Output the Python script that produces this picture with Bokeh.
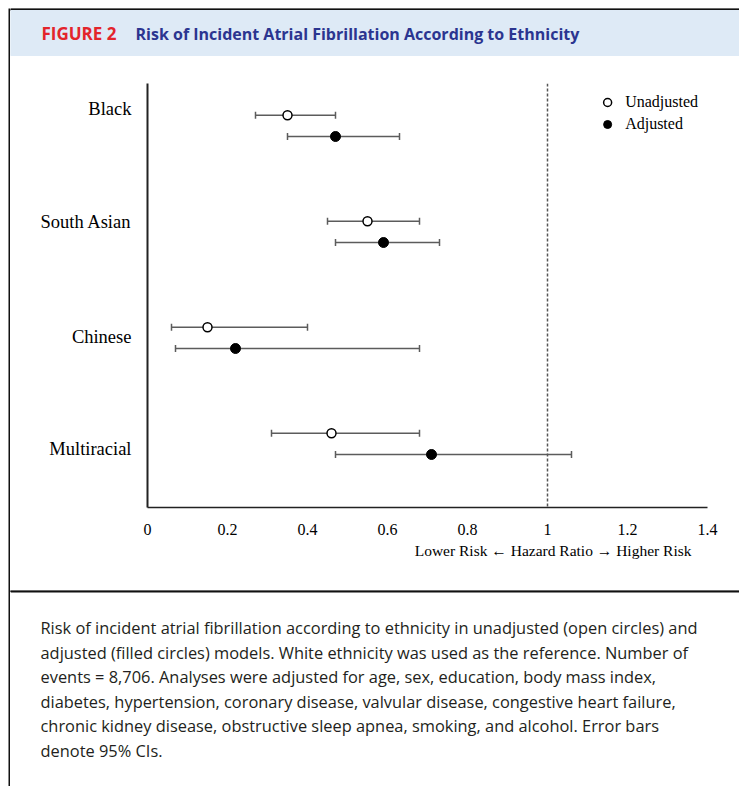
from bokeh.plotting import figure
from bokeh.models import (Range1d, FixedTicker, Whisker, ColumnDataSource, Span,
                          Legend, LegendItem, TeeHead, LinearAxis, Spacer)
from bokeh.layouts import row, column
from bokeh.embed import file_html
from bokeh.resources import INLINE
from bokeh.core.properties import value

# ---------------- data ----------------
ethnicities = ["Black", "South Asian", "Chinese", "Multiracial"]
unadj_hr = [0.35, 0.55, 0.15, 0.46]
unadj_lo = [0.27, 0.45, 0.06, 0.31]
unadj_hi = [0.47, 0.68, 0.40, 0.68]
adj_hr = [0.47, 0.59, 0.22, 0.71]
adj_lo = [0.35, 0.47, 0.07, 0.47]
adj_hi = [0.63, 0.73, 0.68, 1.06]
x_ticks = [0, 0.2, 0.4, 0.6, 0.8, 1.0, 1.2, 1.4]
x_tick_labels = ["0", "0.2", "0.4", "0.6", "0.8", "1", "1.2", "1.4"]
reference_hr = 1.0
series_labels = ["Unadjusted", "Adjusted"]
x_axis_title = "Lower Risk \u2190 Hazard Ratio \u2192 Higher Risk"
figure_tag = "FIGURE 2"
figure_title = "Risk of Incident Atrial Fibrillation According to Ethnicity"
caption_lines = [
    "Risk of incident atrial fibrillation according to ethnicity in unadjusted (open circles) and",
    "adjusted (filled circles) models. White ethnicity was used as the reference. Number of",
    "events = 8,706. Analyses were adjusted for age, sex, education, body mass index,",
    "diabetes, hypertension, coronary disease, valvular disease, congestive heart failure,",
    "chronic kidney disease, obstructive sleep apnea, smoking, and alcohol. Error bars",
    "denote 95% CIs.",
]

# ---------------- layout constants ----------------
W = 729
H_HDR, H_MAIN, H_CAP = 50, 532, 196
n = len(ethnicities)
group_pos = [n - 1 - i + 0.6 for i in range(n)]
pair_offset = 0.1
label_shift = [0.16, 0.09, 0.01, -0.05]
unadj_y = [g + pair_offset for g in group_pos]
adj_y = [g - pair_offset for g in group_pos]
label_y = [round(g + s, 3) for g, s in zip(group_pos, label_shift)]
title_pos = 1.014   # where the axis title is centred along the x axis


def panel_fig(h):
    f = figure(width=W, height=h, x_range=Range1d(0, W), y_range=Range1d(h, 0),
               toolbar_location=None, output_backend="svg", min_border=0,
               x_axis_type=None, y_axis_type=None, outline_line_color=None,
               border_fill_color="white", background_fill_color="white",
               frame_align=False)
    return f


# ---------------- header ----------------
hdr = panel_fig(H_HDR)
hdr.quad(left=[0], right=[W], top=[0], bottom=[2], color="#111111")
hdr.quad(left=[0], right=[W], top=[2], bottom=[47], color="#deeaf6")
hdr.text(x=[31], y=[25], text=[figure_tag], text_font=value("Open Sans"),
         text_font_style="bold", text_font_size="17px", text_color="#e3242b",
         text_baseline="middle", text_align="left")
hdr.text(x=[125], y=[25], text=[figure_title], text_font=value("Open Sans"),
         text_font_style="bold", text_font_size="16px", text_color="#2b3590",
         text_baseline="middle", text_align="left")

# ---------------- main chart ----------------
p = figure(width=W, height=H_MAIN, x_range=Range1d(0, 1.4), y_range=Range1d(0, 4),
           toolbar_location=None, output_backend="svg",
           min_border_left=137, min_border_right=32, min_border_top=25,
           min_border_bottom=83, outline_line_color=None,
           border_fill_color="white", background_fill_color="white",
           frame_align=False)
p.grid.visible = False

p.xaxis.ticker = FixedTicker(ticks=x_ticks)
p.xaxis.major_label_overrides = {t: lab for t, lab in zip(x_ticks, x_tick_labels)}
p.xaxis.axis_line_color = "#222222"
p.xaxis.axis_line_width = 1.5
p.xaxis.major_tick_line_color = None
p.xaxis.minor_tick_line_color = None
p.xaxis.major_tick_out = 0
p.xaxis.major_tick_in = 0
p.xaxis.major_label_standoff = 16
p.xaxis.major_label_text_font = "Liberation Serif"
p.xaxis.major_label_text_font_size = "16px"
p.xaxis.major_label_text_color = "black"

title_axis = LinearAxis(ticker=FixedTicker(ticks=[title_pos]),
                        major_label_overrides={title_pos: x_axis_title},
                        axis_line_color=None, major_tick_line_color=None,
                        minor_tick_line_color=None, major_tick_out=0, major_tick_in=0,
                        major_label_standoff=4,
                        major_label_text_font="Liberation Serif",
                        major_label_text_font_size="15.5px",
                        major_label_text_color="black")
p.add_layout(title_axis, "below")

p.yaxis.ticker = FixedTicker(ticks=label_y)
p.yaxis.major_label_overrides = {t: lab for t, lab in zip(label_y, ethnicities)}
p.yaxis.axis_line_color = "#222222"
p.yaxis.axis_line_width = 2
p.yaxis.major_tick_line_color = None
p.yaxis.minor_tick_line_color = None
p.yaxis.major_tick_out = 0
p.yaxis.major_tick_in = 0
p.yaxis.major_label_standoff = 16
p.yaxis.major_label_text_font = "Liberation Serif"
p.yaxis.major_label_text_font_size = "18.5px"
p.yaxis.major_label_text_color = "black"

p.add_layout(Span(location=reference_hr, dimension="height", line_color="#555555",
                  line_width=1.5, line_dash="3 2"))

src_u = ColumnDataSource(dict(y=unadj_y, hr=unadj_hr, lo=unadj_lo, hi=unadj_hi))
src_a = ColumnDataSource(dict(y=adj_y, hr=adj_hr, lo=adj_lo, hi=adj_hi))

for src in (src_u, src_a):
    p.add_layout(Whisker(source=src, base="y", lower="lo", upper="hi", dimension="width",
                         line_color="#5c5c5c", line_width=1.5,
                         lower_head=TeeHead(size=7, line_color="#5c5c5c", line_width=1.5),
                         upper_head=TeeHead(size=7, line_color="#5c5c5c", line_width=1.5)))

r_u = p.scatter("hr", "y", source=src_u, marker="circle", size=9, fill_color="white",
                line_color="black", line_width=1.5)
r_a = p.scatter("hr", "y", source=src_a, marker="circle", size=10, fill_color="black",
                line_color="black", line_width=1)

legend = Legend(items=[LegendItem(label=series_labels[0], renderers=[r_u]),
                       LegendItem(label=series_labels[1], renderers=[r_a])],
                location="top_right", margin=9, padding=8, spacing=2,
                glyph_width=20, glyph_height=20, label_standoff=8,
                label_text_font="Liberation Serif", label_text_font_size="16px",
                label_text_color="black", background_fill_alpha=0,
                border_line_color=None)
p.add_layout(legend)

# ---------------- caption ----------------
cap = panel_fig(H_CAP)
cap.quad(left=[0], right=[W], top=[-0.5], bottom=[1.5], color="#111111")
cap.text(x=[30] * len(caption_lines),
         y=[37 + 24.6 * i for i in range(len(caption_lines))],
         text=caption_lines, text_font=value("Open Sans"), text_font_size="16.4px",
         text_color="#231f20", text_baseline="middle", text_align="left")

# ---------------- outer left border ----------------
strip = figure(width=2, height=H_HDR + H_MAIN + H_CAP, toolbar_location=None,
               output_backend="svg", min_border=0, x_axis_type=None, y_axis_type=None,
               outline_line_color=None, background_fill_color="#111111",
               border_fill_color="#111111", frame_align=False)

layout = column(Spacer(height=8),
                row(Spacer(width=8), strip, column(hdr, p, cap)))
open("out.html", "w").write(file_html(layout, INLINE))
